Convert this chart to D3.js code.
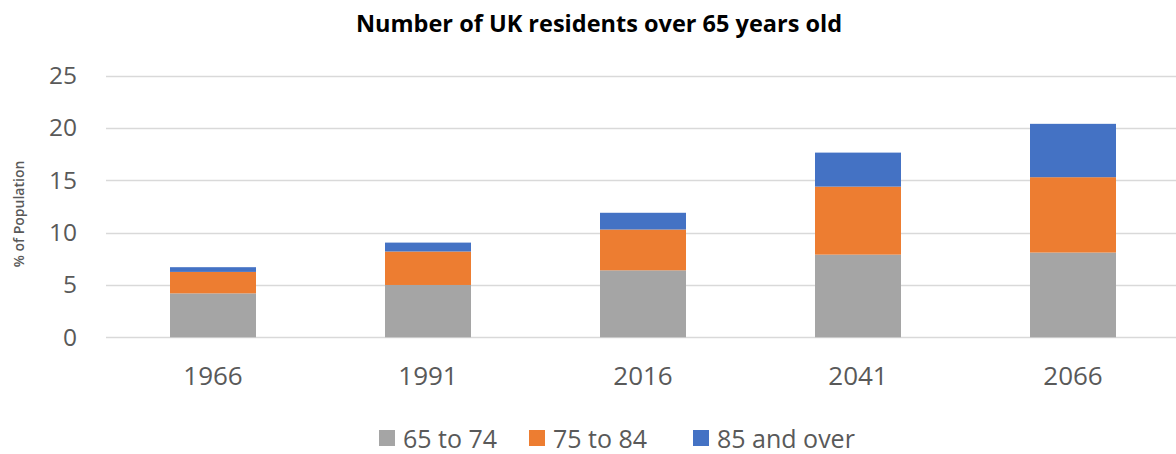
<!DOCTYPE html>
<html>
<head>
<meta charset="utf-8">
<script src="https://cdn.jsdelivr.net/npm/d3@7"></script>
<style>
  html, body { margin: 0; padding: 0; background: #ffffff; }
  svg { display: block; }
</style>
</head>
<body>
<svg id="chart" width="1176" height="454"></svg>
<script>
// Share of the UK population aged over 65, by age band (%)
const years = ["1966", "1991", "2016", "2041", "2066"];
const age65to74 = [4.2, 5.0, 6.4, 7.9, 8.1];
const age75to84 = [2.05, 3.2, 3.9, 6.5, 7.2];
const age85plus = [0.45, 0.85, 1.6, 3.25, 5.1];
const seriesNames = ["65 to 74", "75 to 84", "85 and over"];
const seriesColors = ["#a5a5a5", "#ed7d31", "#4472c4"];
const yTicks = [0, 5, 10, 15, 20, 25];

const svg = d3.select("#chart");
const textColor = "#595959";
const font = "'Open Sans', 'Noto Sans', sans-serif";

const rows = years.map((y, i) => ({
  year: y,
  "65 to 74": age65to74[i],
  "75 to 84": age75to84[i],
  "85 and over": age85plus[i]
}));
const stacked = d3.stack().keys(seriesNames)(rows);

const x = d3.scaleBand()
  .domain(years)
  .range([105.5, 1180.5])
  .paddingInner(0.6)
  .paddingOuter(0.3);

const y = d3.scaleLinear()
  .domain([0, 25])
  .range([337.3, 75.7]);

const color = d3.scaleOrdinal().domain(seriesNames).range(seriesColors);

// Horizontal gridlines
svg.append("g")
  .selectAll("line")
  .data(yTicks)
  .join("line")
  .attr("x1", 106)
  .attr("x2", 1176)
  .attr("y1", d => Math.round(y(d)) + 0.5)
  .attr("y2", d => Math.round(y(d)) + 0.5)
  .attr("stroke", "#d9d9d9")
  .attr("stroke-width", 1.3);

// Y axis labels
const yAxis = svg.append("g")
  .attr("transform", "translate(77,0)")
  .call(d3.axisLeft(y).tickValues(yTicks).tickSize(0).tickPadding(0));
yAxis.select(".domain").remove();
yAxis.selectAll("text")
  .attr("fill", textColor)
  .style("font-family", font)
  .style("font-size", "24.5px");

// Y axis title
svg.append("text")
  .attr("transform", "translate(24,214) rotate(-90)")
  .attr("text-anchor", "middle")
  .attr("fill", textColor)
  .style("font-family", font)
  .style("font-size", "14px")
  .style("font-weight", "600")
  .text("% of Population");

// Stacked bars
svg.append("g")
  .selectAll("g")
  .data(stacked)
  .join("g")
  .attr("fill", d => color(d.key))
  .selectAll("rect")
  .data(d => d)
  .join("rect")
  .attr("x", d => x(d.data.year))
  .attr("width", x.bandwidth())
  .attr("y", d => y(d[1]))
  .attr("height", d => y(d[0]) - y(d[1]));

// X axis labels
const xAxis = svg.append("g")
  .attr("transform", "translate(0,360)")
  .call(d3.axisBottom(x).tickSize(0).tickPadding(0));
xAxis.select(".domain").remove();
xAxis.selectAll("text")
  .attr("dy", "0.71em")
  .attr("y", 7)
  .attr("fill", textColor)
  .style("font-family", font)
  .style("font-size", "26px");

// Title
svg.append("text")
  .attr("x", 599)
  .attr("y", 32)
  .attr("text-anchor", "middle")
  .attr("fill", "#000000")
  .style("font-family", font)
  .style("font-size", "23.5px")
  .style("font-weight", "700")
  .text("Number of UK residents over 65 years old");

// Legend
const legendX = [379, 529, 693];
const legend = svg.append("g")
  .selectAll("g")
  .data(seriesNames)
  .join("g")
  .attr("transform", (d, i) => `translate(${legendX[i]},430)`);
legend.append("rect")
  .attr("width", 16)
  .attr("height", 16)
  .attr("fill", d => color(d));
legend.append("text")
  .attr("x", 24)
  .attr("y", 18)
  .attr("fill", textColor)
  .style("font-family", font)
  .style("font-size", "25px")
  .text(d => d);
</script>
</body>
</html>
